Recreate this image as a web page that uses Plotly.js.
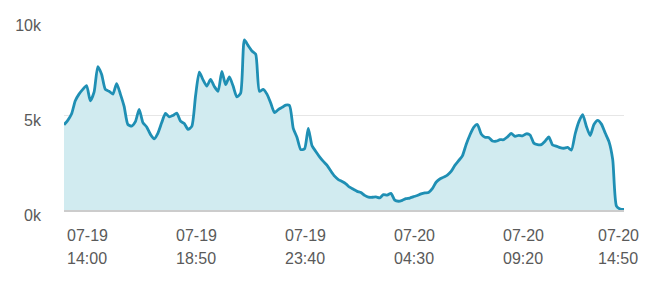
<!DOCTYPE html>
<html>
<head>
<meta charset="utf-8">
<script src="https://cdn.plot.ly/plotly-3.0.1.min.js"></script>
<style>
html,body{margin:0;padding:0;background:#fff;}
#chart{width:653px;height:283px;}
</style>
</head>
<body>
<div id="chart"></div>
<script>
// Series values (thousands), one per 10 minutes from 07-19 14:00 to 07-20 14:50
const startTime = "2024-07-19T14:00:00";
const stepMinutes = 10;
const valuesK = [
  4.49, 4.72, 5.05, 5.75, 6.10, 6.35, 6.55, 5.75, 6.20, 7.55,
  7.15, 6.35, 6.25, 6.10, 6.65, 6.10, 5.45, 4.50, 4.42, 4.65,
  5.30, 4.60, 4.37, 3.98, 3.75, 4.05, 4.60, 5.08, 4.90, 4.98,
  5.10, 4.68, 4.55, 4.25, 4.40, 6.00, 7.25, 6.85, 6.52, 6.87,
  6.50, 6.25, 7.30, 6.60, 7.00, 6.52, 5.95, 6.15, 8.95, 8.65,
  8.37, 8.20, 6.25, 6.35, 6.10, 5.63, 5.12, 5.28, 5.40, 5.52,
  5.50, 4.30, 3.82, 3.18, 3.22, 4.30, 3.38, 3.08, 2.80, 2.56,
  2.35, 2.05, 1.78, 1.60, 1.50, 1.38, 1.20, 1.09, 0.98, 0.92,
  0.77, 0.68, 0.67, 0.69, 0.64, 0.81, 0.78, 0.88, 0.52, 0.46,
  0.51, 0.60, 0.63, 0.70, 0.76, 0.85, 0.90, 0.92, 1.12, 1.46,
  1.63, 1.73, 1.84, 2.03, 2.35, 2.60, 2.85, 3.45, 3.95, 4.35,
  4.50, 4.00, 3.83, 3.82, 3.63, 3.62, 3.70, 3.70, 3.85, 4.03,
  3.88, 3.93, 3.90, 4.01, 3.95, 3.52, 3.44, 3.44, 3.62, 3.85,
  3.42, 3.36, 3.28, 3.25, 3.30, 3.15, 4.00, 4.65, 5.02, 4.40,
  3.92, 4.50, 4.72, 4.52, 4.05, 3.60, 2.65, 0.20, 0.05, 0.03
];
// X tick labels
const tickTimes = ["2024-07-19T14:00:00", "2024-07-19T18:50:00", "2024-07-19T23:40:00",
                   "2024-07-20T04:30:00", "2024-07-20T09:20:00", "2024-07-20T14:50:00"];
const tickDates = ["07-19", "07-19", "07-19", "07-20", "07-20", "07-20"];
const tickClock = ["14:00", "18:50", "23:40", "04:30", "09:20", "14:50"];
// Y ticks
const yTickVals = [0, 5000, 10000];
const yTickText = ["0k", "5k", "10k"];

function fmt(d){
  const p = n => String(n).padStart(2, "0");
  return d.getFullYear() + "-" + p(d.getMonth()+1) + "-" + p(d.getDate()) + " " + p(d.getHours()) + ":" + p(d.getMinutes()) + ":00";
}
const t0 = new Date(startTime);
const times = valuesK.map((v, i) => fmt(new Date(t0.getTime() + i * stepMinutes * 60000)));
const values = valuesK.map(v => v * 1000);

const textColor = "#5a5a5a";
const fontFam = "Liberation Sans, Arial, sans-serif";

const annotations = [];
tickTimes.forEach((t, i) => {
  const last = i === tickTimes.length - 1;
  const base = {
    x: t, xref: "x", yref: "paper", y: 0,
    showarrow: false,
    xanchor: last ? "center" : "left",
    xshift: last ? -6 : 1,
    yanchor: "middle",
    font: {family: fontFam, size: 16, color: textColor}
  };
  annotations.push(Object.assign({}, base, {text: tickDates[i], yshift: -25.5}));
  annotations.push(Object.assign({}, base, {text: tickClock[i], yshift: -48}));
});

const trace = {
  x: times, y: values,
  type: "scatter", mode: "lines",
  line: {color: "#1f8fb4", width: 2.8, shape: "spline", smoothing: 0.6},
  fill: "tozeroy", fillcolor: "#d1ebf0",
  hoverinfo: "skip"
};

const layout = {
  width: 653, height: 283,
  margin: {l: 64, r: 29, t: 20, b: 72.5, pad: 0},
  paper_bgcolor: "#ffffff", plot_bgcolor: "#ffffff",
  showlegend: false,
  xaxis: {
    type: "date",
    range: [times[0], times[times.length - 1]],
    showgrid: false, zeroline: false,
    showline: true, linecolor: "#cccccc", linewidth: 2,
    showticklabels: false, ticks: "",
    fixedrange: true
  },
  yaxis: {
    range: [0, 10000],
    tickvals: yTickVals, ticktext: yTickText,
    showgrid: true, gridcolor: "#e6e6e6", gridwidth: 1,
    zeroline: false, showline: false, ticks: "",
    ticklabelstandoff: 22, ticklabelshift: 5,
    tickfont: {family: fontFam, size: 16, color: textColor},
    fixedrange: true
  },
  annotations: annotations
};

Plotly.newPlot("chart", [trace], layout, {displayModeBar: false, staticPlot: true});
</script>
</body>
</html>
